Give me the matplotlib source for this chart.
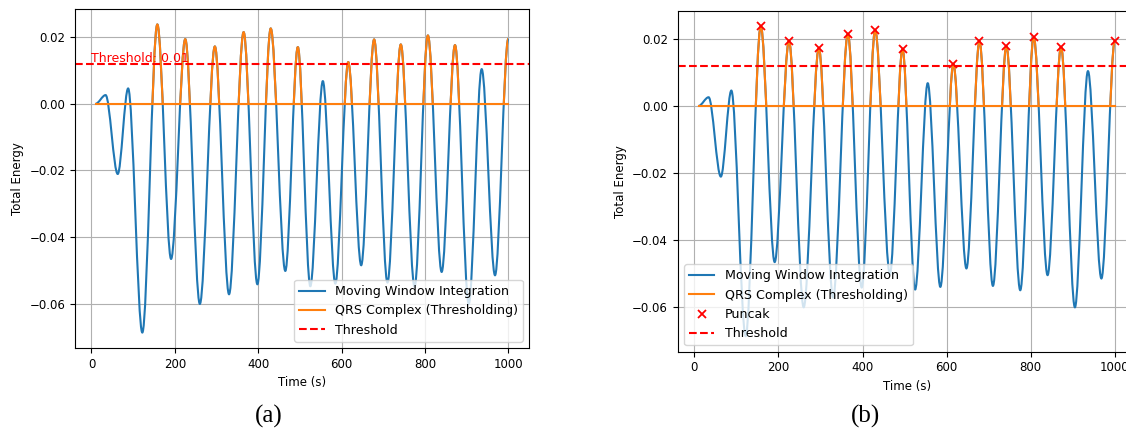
#!/usr/bin/env python3
"""
Moving window integration vs. thresholded QRS complex, two panels:
(a) threshold only, (b) threshold plus detected peaks (puncak).
"""

import matplotlib
matplotlib.use("Agg")
import matplotlib.pyplot as plt
from matplotlib.path import Path
from matplotlib.patches import PathPatch, Rectangle
from matplotlib.lines import Line2D


# extrema of the integrated signal (time, energy)
EXT_T = [10, 34, 63, 88, 122, 158, 191, 225, 260, 296, 330, 365, 398, 430,
         465, 495, 525, 555, 585, 616, 647, 678, 710, 742, 775, 807, 840,
         872, 905, 936, 968, 1000]
EXT_Y = [0.0, 0.0026, -0.0211, 0.0046, -0.0687, 0.0238, -0.0466, 0.0194,
         -0.0601, 0.0172, -0.0572, 0.0215, -0.0542, 0.0226, -0.0502, 0.0170,
         -0.0548, 0.0068, -0.0540, 0.0125, -0.0485, 0.0193, -0.0537, 0.0178,
         -0.0550, 0.0205, -0.0505, 0.0176, -0.0601, 0.0104, -0.0515, 0.0195]

THRESHOLD = 0.012

LABELS_A = ["Moving Window Integration", "QRS Complex (Thresholding)", "Threshold"]
LABELS_B = ["Moving Window Integration", "QRS Complex (Thresholding)", "Puncak", "Threshold"]

BLUE = "#1f77b4"
ORANGE = "#ff7f0e"


def smooth_path(ts, ys):
    """Cubic segments between extrema, flat tangent at every extremum."""
    verts = [(ts[0], ys[0])]
    codes = [Path.MOVETO]
    for t0, y0, t1, y1 in zip(ts[:-1], ys[:-1], ts[1:], ys[1:]):
        dt = t1 - t0
        verts += [(t0 + dt / 3, y0), (t1 - dt / 3, y1), (t1, y1)]
        codes += [Path.CURVE4] * 3
    return Path(verts, codes)


def peak_indices(ys, thr):
    idx = []
    for i, y in enumerate(ys):
        left = ys[i - 1] if i > 0 else -1
        right = ys[i + 1] if i < len(ys) - 1 else -1
        if y > thr and y > left and y > right:
            idx.append(i)
    return idx


def draw_panel(ax, with_peaks):
    t0, t1 = EXT_T[0], EXT_T[-1]
    ymin, ymax = min(EXT_Y), max(EXT_Y)

    ax.add_patch(PathPatch(smooth_path(EXT_T, EXT_Y), fill=False, edgecolor=BLUE,
                           lw=1.5, joinstyle="round", zorder=2))

    # QRS: the signal itself where a peak passes the threshold, zero elsewhere
    ax.plot([t0, t1], [0, 0], color=ORANGE, lw=1.5, zorder=2.1)
    clip = Rectangle((t0, 0), t1 - t0, 1, transform=ax.transData)
    peaks = peak_indices(EXT_Y, THRESHOLD)
    for i in peaks:
        lo, hi = max(i - 1, 0), min(i + 2, len(EXT_T))
        bump = PathPatch(smooth_path(EXT_T[lo:hi], EXT_Y[lo:hi]), fill=False,
                         edgecolor=ORANGE, lw=1.5, joinstyle="round", zorder=2.1)
        ax.add_patch(bump)
        bump.set_clip_path(clip)

    handles = [Line2D([], [], color=BLUE, lw=1.5), Line2D([], [], color=ORANGE, lw=1.5)]

    if with_peaks:
        mk, = ax.plot([EXT_T[i] for i in peaks], [EXT_Y[i] for i in peaks], "x",
                      color="red", ms=6, mew=1.3, zorder=3)
        handles.append(mk)

    thr_line = ax.axhline(THRESHOLD, color="red", ls="--", lw=1.5, zorder=2.5)
    handles.append(thr_line)

    if not with_peaks:
        ax.text(0, THRESHOLD + 0.0006, f"Threshold: {THRESHOLD:.2f}", color="red",
                fontsize=9, va="baseline", ha="left")

    xpad = 0.05 * (t1 - t0)
    ypad = 0.05 * (ymax - ymin)
    ax.set_xlim(t0 - xpad, t1 + xpad)
    ax.set_ylim(ymin - ypad, ymax + ypad)
    ax.set_xticks(range(0, 1001, 200))
    ax.set_yticks([-0.06, -0.04, -0.02, 0.0, 0.02])
    ax.grid(True, color="#b0b0b0", lw=0.8)
    ax.tick_params(labelsize=8.5)
    ax.set_xlabel("Time (s)", fontsize=8.5)
    ax.set_ylabel("Total Energy", fontsize=8.5)

    labels = LABELS_B if with_peaks else LABELS_A
    ax.legend(handles, labels, loc="lower left" if with_peaks else "lower right",
              fontsize=9.1)


def main():
    fig = plt.figure(figsize=(11.26, 4.32), dpi=100)
    ax_a = fig.add_axes([0.0666, 0.1944, 0.4032, 0.7847])
    ax_b = fig.add_axes([0.6019, 0.1859, 0.4067, 0.7894])

    draw_panel(ax_a, with_peaks=False)
    draw_panel(ax_b, with_peaks=True)

    fig.text(0.239, 0.035, "(a)", family="Liberation Serif", fontsize=18,
             ha="center", va="center")
    fig.text(0.769, 0.035, "(b)", family="Liberation Serif", fontsize=18,
             ha="center", va="center")

    fig.savefig("out.png", dpi=100)
    plt.close(fig)


if __name__ == "__main__":
    main()
